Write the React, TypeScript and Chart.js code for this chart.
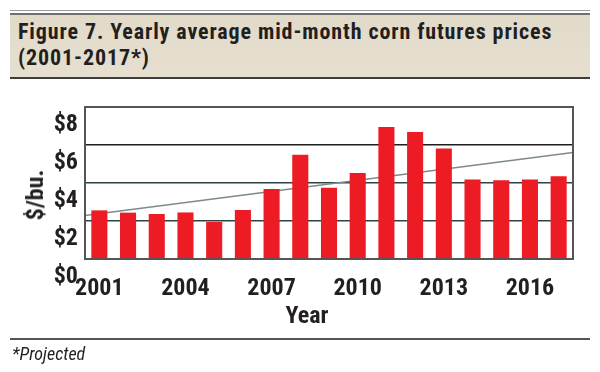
import React, { useEffect, useRef } from "react";
import { Chart, registerables } from "chart.js";

Chart.register(...registerables);

const years = ["2001", "2002", "2003", "2004", "2005", "2006", "2007", "2008", "2009", "2010", "2011", "2012", "2013", "2014", "2015", "2016", "2017"];
const prices = [2.56, 2.44, 2.37, 2.45, 1.95, 2.58, 3.68, 5.49, 3.75, 4.53, 6.95, 6.68, 5.82, 4.19, 4.14, 4.19, 4.35];
const trendYears = [2000.5, 2017.5];
const trendValues = [2.29, 5.61];
const shownYearLabels = ["2001", "2004", "2007", "2010", "2013", "2016"];
const yMin = 0;
const yMax = 8;
const yStep = 2;

const FONT = 'Roboto, "DejaVu Sans Condensed", sans-serif';
const TEXT = "#231f20";

const framePlugin = {
  id: "frame",
  afterDatasetsDraw(chart: any) {
    const { ctx, chartArea: a } = chart;
    ctx.save();
    ctx.strokeStyle = "#555555";
    ctx.lineWidth = 2;
    ctx.strokeRect(a.left, a.top, a.right - a.left, a.bottom - a.top);
    ctx.restore();
  },
};

function CornChart() {
  const ref = useRef<HTMLCanvasElement | null>(null);
  useEffect(() => {
    if (!ref.current) return;
    const chart = new Chart(ref.current, {
      type: "bar",
      data: {
        labels: years,
        datasets: [
          {
            type: "bar",
            data: prices,
            backgroundColor: "#ed1c24",
            borderWidth: 0,
            grouped: false,
            categoryPercentage: 1,
            barPercentage: 0.56,
            order: 0,
            xAxisID: "x",
            yAxisID: "y",
          } as any,
          {
            type: "line",
            data: trendYears.map((x, i) => ({ x, y: trendValues[i] })),
            xAxisID: "xt",
            yAxisID: "y",
            borderColor: "#7d8a8a",
            borderWidth: 1.5,
            pointRadius: 0,
            fill: false,
            order: 1,
          } as any,
        ],
      },
      options: {
        animation: false,
        responsive: false,
        maintainAspectRatio: false,
        layout: { padding: { left: 0, top: 107, right: 27, bottom: 73 } },
        plugins: { legend: { display: false }, tooltip: { enabled: false } },
        scales: {
          x: {
            type: "category",
            position: "bottom",
            offset: true,
            grid: { display: false, drawTicks: false },
            border: { display: false },
            ticks: {
              autoSkip: false,
              maxRotation: 0,
              padding: 16,
              color: TEXT,
              font: { family: FONT, size: 24, weight: "bold condensed" },
              callback: (_v: any, i: number) => (shownYearLabels.includes(years[i]) ? years[i] : ""),
            },
            afterFit: (s: any) => {
              s.height = 40;
            },
          },
          xt: {
            type: "linear",
            display: false,
            offset: false,
            min: trendYears[0],
            max: trendYears[1],
          },
          y: {
            min: yMin,
            max: yMax,
            ticks: {
              stepSize: yStep,
              padding: 7,
              labelOffset: 18,
              color: TEXT,
              font: { family: FONT, size: 24, weight: "bold condensed" },
              callback: (v: any) => "$" + v,
            },
            grid: {
              drawTicks: false,
              lineWidth: 1.5,
              color: (ctx: any) => {
                const v = ctx.tick ? ctx.tick.value : 0;
                if (v === 0) return "rgba(0,0,0,0)";
                return v >= 6 ? "#1e1e1e" : "#2c4444";
              },
            },
            border: { display: false },
            afterFit: (s: any) => {
              s.width = 85;
            },
          },
        },
      } as any,
      plugins: [framePlugin],
    });
    return () => chart.destroy();
  }, []);
  return <canvas ref={ref} width={600} height={372} style={{ position: "absolute", left: 0, top: 0, width: 600, height: 372 }} />;
}

export default function App() {
  const abs = (s: React.CSSProperties): React.CSSProperties => ({ position: "absolute", ...s });
  const cond: React.CSSProperties = { fontFamily: FONT, fontStretch: "condensed", fontWeight: "bold", whiteSpace: "nowrap" };
  return (
    <div style={{ position: "fixed", left: 0, top: 0, width: 600, height: 372, background: "#ffffff", overflow: "hidden", fontFamily: FONT, color: TEXT }}>
      <div style={abs({ left: 10, top: 10, width: 580, height: 1, background: "#9a9a9a" })} />
      <div style={abs({ left: 10, top: 13, width: 580, height: 2, background: "#707070" })} />
      <div style={abs({ left: 10, top: 15, width: 580, height: 62, background: "linear-gradient(180deg, #e2dac9 0%, #e6dfd0 100%)" })} />
      <div style={abs({ left: 10, top: 77, width: 580, height: 2, background: "#3c3c3c" })} />
      <div style={abs({ ...cond, fontStretch: "80%", letterSpacing: "0.9px", left: 18, top: 19, fontSize: 22, lineHeight: "25.5px" })}>
        Figure 7. Yearly average mid-month corn futures prices
        <br />
        (2001-2017*)
      </div>
      <CornChart />
      <div style={abs({ ...cond, left: 35, top: 195, transform: "translate(-50%, -50%) rotate(-90deg)", fontSize: 24, lineHeight: "26px" })}>$/bu.</div>
      <div style={abs({ ...cond, left: 307, top: 315, transform: "translate(-50%, -50%)", fontSize: 24, lineHeight: "26px" })}>Year</div>
      <div style={abs({ left: 10, top: 338, width: 580, height: 2, background: "#555555" })} />
      <div style={abs({ left: 12, top: 354, transform: "translateY(-50%)", fontFamily: FONT, fontStretch: "condensed", fontSize: 18, fontStyle: "italic", whiteSpace: "nowrap", lineHeight: "20px" })}>*Projected</div>
    </div>
  );
}
